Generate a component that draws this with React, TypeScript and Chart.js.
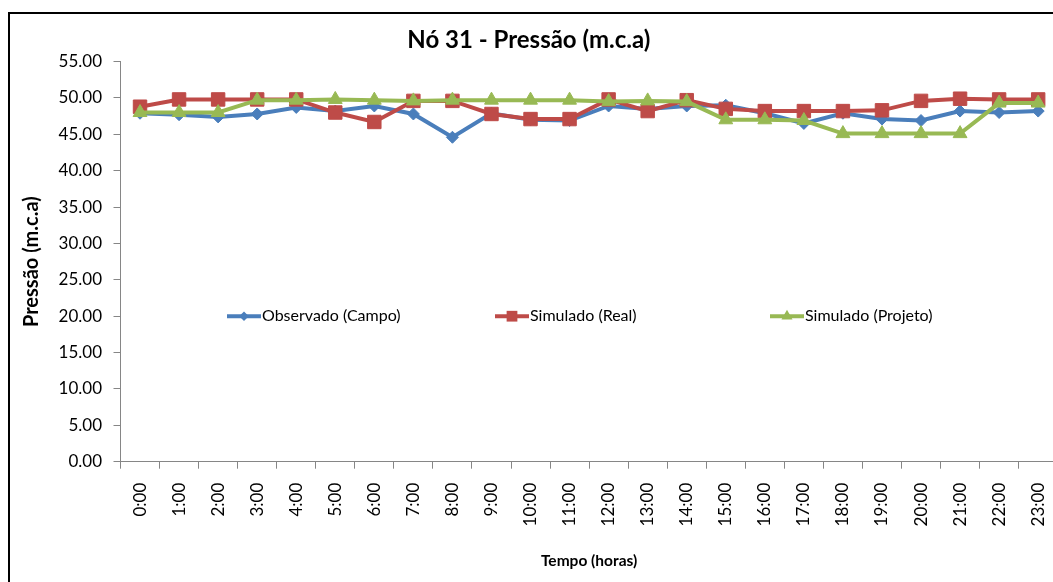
import React, { useEffect, useRef } from "react";
import { Chart, registerables } from "chart.js";

Chart.register(...registerables);

const hours = [
  "0:00", "1:00", "2:00", "3:00", "4:00", "5:00", "6:00", "7:00", "8:00", "9:00", "10:00", "11:00",
  "12:00", "13:00", "14:00", "15:00", "16:00", "17:00", "18:00", "19:00", "20:00", "21:00", "22:00", "23:00",
];

const observadoCampo = [
  47.9, 47.7, 47.4, 47.8, 48.7, 48.2, 48.9, 47.8, 44.6, 47.9, 47.0, 46.9,
  48.9, 48.5, 48.9, 49.0, 47.9, 46.5, 47.9, 47.1, 46.9, 48.2, 48.0, 48.2,
];

const simuladoReal = [
  48.8, 49.8, 49.8, 49.8, 49.8, 48.0, 46.7, 49.6, 49.6, 47.8, 47.1, 47.1,
  49.8, 48.2, 49.7, 48.5, 48.2, 48.2, 48.2, 48.3, 49.6, 49.9, 49.8, 49.8,
];

const simuladoProjeto = [
  48.0, 48.0, 48.0, 49.7, 49.7, 49.8, 49.7, 49.6, 49.7, 49.7, 49.7, 49.7,
  49.5, 49.6, 49.5, 47.0, 47.0, 46.9, 45.1, 45.1, 45.1, 45.1, 49.3, 49.3,
];

const seriesNames = ["Observado (Campo)", "Simulado (Real)", "Simulado (Projeto)"];

const yMin = 0;
const yMax = 55;
const yStep = 5;

const FONT = "Lato, 'Open Sans', sans-serif";
const BLUE = "#4A7EBB";
const RED = "#BE4B48";
const GREEN = "#98B954";

function drawMarker(ctx: CanvasRenderingContext2D, style: string, x: number, y: number, r: number) {
  ctx.beginPath();
  if (style === "rectRot") {
    ctx.moveTo(x - r, y);
    ctx.lineTo(x, y - r);
    ctx.lineTo(x + r, y);
    ctx.lineTo(x, y + r);
  } else if (style === "rect") {
    const s = Math.SQRT1_2 * r;
    ctx.rect(x - s, y - s, 2 * s, 2 * s);
  } else {
    ctx.moveTo(x, y - r);
    ctx.lineTo(x + r * Math.sin(Math.PI / 3), y + r / 2);
    ctx.lineTo(x - r * Math.sin(Math.PI / 3), y + r / 2);
  }
  ctx.closePath();
  ctx.fill();
}

const insideLegend = {
  id: "insideLegend",
  afterDraw(chart: any, _args: any, opts: any) {
    const { ctx, chartArea } = chart;
    const y = chart.scales.y.getPixelForValue(opts.yValue);
    ctx.save();
    chart.data.datasets.forEach((ds: any, i: number) => {
      const x0 = chartArea.left + opts.offsets[i];
      const len = opts.symbolLength;
      ctx.strokeStyle = ds.borderColor;
      ctx.fillStyle = ds.backgroundColor;
      ctx.lineWidth = ds.borderWidth;
      ctx.beginPath();
      ctx.moveTo(x0, y);
      ctx.lineTo(x0 + len, y);
      ctx.stroke();
      drawMarker(ctx, ds.pointStyle, x0 + len / 2, y, ds.pointRadius * 0.8);
      ctx.fillStyle = "#000";
      ctx.font = opts.font;
      ctx.textAlign = "left";
      ctx.textBaseline = "middle";
      ctx.fillText(ds.label, x0 + len + 1, y);
    });
    ctx.restore();
  },
};

export default function App() {
  const canvasRef = useRef<HTMLCanvasElement | null>(null);

  useEffect(() => {
    const canvas = canvasRef.current;
    if (!canvas) return;
    const chart = new Chart(canvas, {
      type: "line",
      data: {
        labels: hours,
        datasets: [
          {
            label: seriesNames[0],
            data: observadoCampo,
            borderColor: BLUE,
            backgroundColor: BLUE,
            borderWidth: 4,
            pointStyle: "rectRot",
            pointRadius: 6,
            pointBorderWidth: 1,
            tension: 0,
            order: 3,
          },
          {
            label: seriesNames[1],
            data: simuladoReal,
            borderColor: RED,
            backgroundColor: RED,
            borderWidth: 4,
            pointStyle: "rect",
            pointRadius: 9.5,
            pointBorderWidth: 1,
            tension: 0,
            order: 2,
          },
          {
            label: seriesNames[2],
            data: simuladoProjeto,
            borderColor: GREEN,
            backgroundColor: GREEN,
            borderWidth: 4,
            pointStyle: "triangle",
            pointRadius: 8,
            pointBorderWidth: 1,
            tension: 0,
            order: 1,
          },
        ],
      },
      options: {
        responsive: false,
        animation: false,
        devicePixelRatio: 1,
        layout: { padding: { left: 0, top: 0, right: 22.3, bottom: 0 } },
        plugins: {
          legend: { display: false },
          tooltip: { enabled: false },
          title: {
            display: true,
            text: "Nó 31 - Pressão (m.c.a)",
            color: "#000",
            font: { family: FONT, size: 24, weight: "bold" },
            padding: { top: 26, bottom: 6.8 },
          },
          insideLegend: {
            yValue: 20,
            offsets: [106.5, 374.5, 649.5],
            symbolLength: 34,
            font: `16px ${FONT}`,
          },
        } as any,
        scales: {
          x: {
            type: "category",
            offset: true,
            grid: {
              offset: true,
              drawOnChartArea: false,
              drawTicks: true,
              tickLength: 7,
              color: "#868686",
            },
            border: { color: "#868686", width: 1 },
            ticks: {
              autoSkip: false,
              maxRotation: 90,
              minRotation: 90,
              padding: 14,
              color: "#000",
              font: { family: FONT, size: 17 },
            },
            title: {
              display: true,
              text: "Tempo (horas)",
              color: "#000",
              font: { family: FONT, size: 15.5, weight: "bold" },
              padding: { top: 0, bottom: 12 },
            },
            afterFit: (scale: any) => {
              scale.height = 120.3;
            },
          },
          y: {
            min: yMin,
            max: yMax,
            grid: {
              drawOnChartArea: false,
              drawTicks: true,
              tickLength: 7,
              color: "#868686",
            },
            border: { color: "#868686", width: 1 },
            ticks: {
              stepSize: yStep,
              padding: 11.5,
              color: "#000",
              font: { family: FONT, size: 17 },
              callback: (v: any) => Number(v).toFixed(2),
            },
            title: {
              display: true,
              text: "Pressão (m.c.a)",
              color: "#000",
              font: { family: FONT, size: 20, weight: "bold" },
              padding: { top: 20, bottom: 0 },
            },
            afterFit: (scale: any) => {
              scale.width = 120.5;
            },
          },
        },
      },
      plugins: [insideLegend as any],
    });
    return () => chart.destroy();
  }, []);

  return (
    <div
      style={{
        position: "absolute",
        left: 0,
        top: 0,
        width: 1053,
        height: 582,
        overflow: "hidden",
        background: "#fff",
      }}
    >
      <canvas
        ref={canvasRef}
        width={1080}
        height={582}
        style={{ position: "absolute", left: 0, top: 0, width: 1080, height: 582 }}
      />
      <div
        style={{
          position: "absolute",
          left: 8,
          top: 12,
          width: 1100,
          height: 700,
          border: "2px solid #000",
          pointerEvents: "none",
        }}
      />
    </div>
  );
}
